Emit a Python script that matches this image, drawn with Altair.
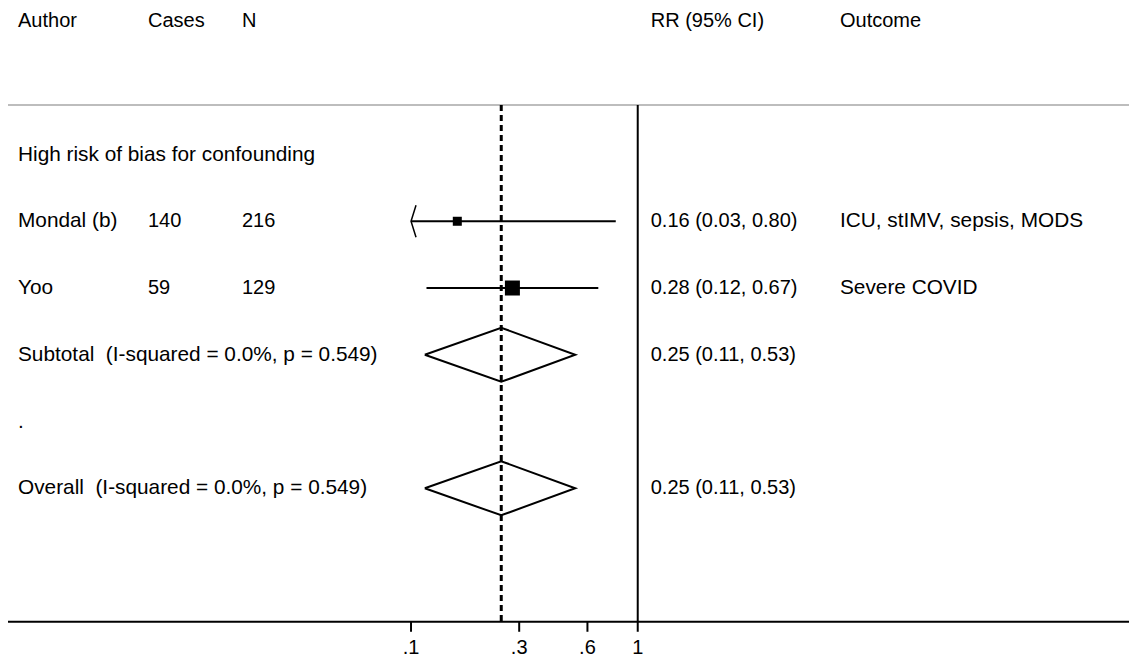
import altair as alt
import pandas as pd

# ---------------- data ----------------
headers = ["Author", "Cases", "N", "RR (95% CI)", "Outcome"]
group_label = "High risk of bias for confounding"

study_labels = ["Mondal (b)", "Yoo"]
cases = ["140", "59"]
n_total = ["216", "129"]
rr = [0.16, 0.28]
lci = [0.03, 0.117]
uci = [0.80, 0.67]
weights = [26.5, 73.5]
rr_text = ["0.16 (0.03, 0.80)", "0.28 (0.12, 0.67)"]
outcomes = ["ICU, stIMV, sepsis, MODS", "Severe COVID"]

pooled_labels = ["Subtotal\u00a0 (I-squared = 0.0%, p = 0.549)",
                 "Overall\u00a0 (I-squared = 0.0%, p = 0.549)"]
pooled_rr = [0.25, 0.25]
pooled_lci = [0.115, 0.115]
pooled_uci = [0.53, 0.53]
pooled_text = ["0.25 (0.11, 0.53)", "0.25 (0.11, 0.53)"]

tick_values = [0.1, 0.3, 0.6, 1]
tick_labels = [".1", ".3", ".6", "1"]
axis_min = 0.1
overall_rr = 0.25

# row layout (row index from the top)
header_row = 0
group_row = 2
study_rows = [3, 4]
pooled_rows = [5, 7]
spacer_row = 6
top_line_row = 1.26
axis_row = 9

W, H = 1121, 650
FONT = "Liberation Sans"
FS_LABEL = 20.8
FS_NUM = 20

xs = alt.Scale(type="log", domain=[0.001668, 146.9])
ys = alt.Scale(domain=[-0.195, 9.543], reverse=True)

col_x = {"author": 10, "cases": 140, "n": 234, "rr": 642.7, "outcome": 832}
col_fs = {"author": FS_LABEL, "cases": FS_NUM, "n": FS_NUM, "rr": FS_NUM, "outcome": FS_LABEL}

# ---------------- text table ----------------
rows = []
for c, h in zip(["author", "cases", "n", "rr", "outcome"], headers):
    rows.append({"row": header_row, "col": c, "label": h, "hdr": True})
rows.append({"row": group_row, "col": "author", "label": group_label, "hdr": False})
for i, r in enumerate(study_rows):
    rows.append({"row": r, "col": "author", "label": study_labels[i], "hdr": False})
    rows.append({"row": r, "col": "cases", "label": cases[i], "hdr": False})
    rows.append({"row": r, "col": "n", "label": n_total[i], "hdr": False})
    rows.append({"row": r, "col": "rr", "label": rr_text[i], "hdr": False})
    rows.append({"row": r, "col": "outcome", "label": outcomes[i], "hdr": False})
for i, r in enumerate(pooled_rows):
    rows.append({"row": r, "col": "author", "label": pooled_labels[i], "hdr": False})
    rows.append({"row": r, "col": "rr", "label": pooled_text[i], "hdr": False})
rows.append({"row": spacer_row, "col": "author", "label": ".", "hdr": False})
text_df = pd.DataFrame(rows)

text_layers = []
for c, px in col_x.items():
    for hdr in [True, False]:
        sub = text_df[(text_df["col"] == c) & (text_df["hdr"] == hdr)]
        if len(sub) == 0:
            continue
        text_layers.append(
            alt.Chart(sub).mark_text(
                align="left", baseline="middle", font=FONT,
                fontSize=20 if hdr else col_fs[c], color="black"
            ).encode(
                x=alt.value(px),
                y=alt.Y("row:Q", scale=ys, axis=None),
                text="label:N",
            )
        )

# ---------------- studies ----------------
study_df = pd.DataFrame({
    "row": study_rows, "rr": rr, "lci": lci, "uci": uci, "w": weights,
    "lo": [max(v, axis_min) for v in lci],
})

ci = alt.Chart(study_df).mark_rule(color="black", strokeWidth=2).encode(
    x=alt.X("lo:Q", scale=xs, axis=None),
    x2="uci:Q",
    y=alt.Y("row:Q", scale=ys, axis=None),
)

squares = alt.Chart(study_df).mark_square(color="black", opacity=1, filled=True).encode(
    x=alt.X("rr:Q", scale=xs, axis=None),
    y=alt.Y("row:Q", scale=ys, axis=None),
    size=alt.Size("w:Q", scale=alt.Scale(domain=[0, 100], range=[0, 306]), legend=None),
)

# arrows for CIs running off the axis
arrow_pts = []
for i, r in enumerate(study_rows):
    if lci[i] < axis_min:
        arrow_pts += [
            {"id": i, "o": 0, "x": axis_min * 1.052, "y": r - 0.24},
            {"id": i, "o": 1, "x": axis_min, "y": r},
            {"id": i, "o": 2, "x": axis_min * 1.052, "y": r + 0.24},
        ]
arrows = alt.Chart(pd.DataFrame(arrow_pts)).mark_line(color="black", strokeWidth=1.5).encode(
    x=alt.X("x:Q", scale=xs, axis=None),
    y=alt.Y("y:Q", scale=ys, axis=None),
    detail="id:N",
    order="o:Q",
)

# ---------------- diamonds ----------------
dpts = []
half = 0.405
for i, r in enumerate(pooled_rows):
    e, l, u = pooled_rr[i], pooled_lci[i], pooled_uci[i]
    for o, (xv, yv) in enumerate([(l, r), (e, r - half), (u, r), (e, r + half), (l, r)]):
        dpts.append({"id": i, "o": o, "x": xv, "y": yv})
diamonds = alt.Chart(pd.DataFrame(dpts)).mark_line(color="black", strokeWidth=2).encode(
    x=alt.X("x:Q", scale=xs, axis=None),
    y=alt.Y("y:Q", scale=ys, axis=None),
    detail="id:N",
    order="o:Q",
)

# ---------------- reference lines ----------------
vline_df = pd.DataFrame({"x": [1], "y": [top_line_row], "y2": [axis_row]})
null_line = alt.Chart(vline_df).mark_rule(color="black", strokeWidth=2).encode(
    x=alt.X("x:Q", scale=xs, axis=None),
    y=alt.Y("y:Q", scale=ys, axis=None),
    y2="y2:Q",
)
dash_df = pd.DataFrame({"x": [overall_rr], "y": [top_line_row], "y2": [axis_row]})
dash_line = alt.Chart(dash_df).mark_rule(color="black", strokeWidth=3, strokeDash=[6, 4]).encode(
    x=alt.X("x:Q", scale=xs, axis=None),
    y=alt.Y("y:Q", scale=ys, axis=None),
    y2="y2:Q",
)

top_line = alt.Chart(pd.DataFrame({"y": [top_line_row]})).mark_rule(
    color="#bdbdbd", strokeWidth=2
).encode(
    x=alt.value(0), x2=alt.value(W),
    y=alt.Y("y:Q", scale=ys, axis=None),
)

# ---------------- x axis (drawn) ----------------
axis_line = alt.Chart(pd.DataFrame({"y": [axis_row]})).mark_rule(
    color="black", strokeWidth=2
).encode(
    x=alt.value(0), x2=alt.value(W),
    y=alt.Y("y:Q", scale=ys, axis=None),
)
tick_df = pd.DataFrame({"x": tick_values, "lab": tick_labels,
                        "y": [axis_row] * 4, "y2": [axis_row + 0.15] * 4,
                        "ly": [axis_row + 0.40] * 4})
ticks = alt.Chart(tick_df).mark_rule(color="black", strokeWidth=2).encode(
    x=alt.X("x:Q", scale=xs, axis=None),
    y=alt.Y("y:Q", scale=ys, axis=None),
    y2="y2:Q",
)
tick_text = alt.Chart(tick_df).mark_text(
    align="center", baseline="middle", font=FONT, fontSize=FS_NUM, color="black"
).encode(
    x=alt.X("x:Q", scale=xs, axis=None),
    y=alt.Y("ly:Q", scale=ys, axis=None),
    text="lab:N",
)

chart = alt.layer(
    top_line, axis_line, null_line, dash_line, ci, arrows, squares, diamonds,
    ticks, tick_text, *text_layers
).properties(
    width=W, height=H, padding=0, background="white",
    autosize=alt.AutoSizeParams(type="none"),
).configure_view(stroke=None, strokeWidth=0)

chart.save("out.html", embed_options={"renderer": "svg", "actions": False})
